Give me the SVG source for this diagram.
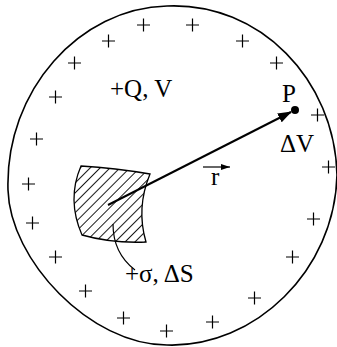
<svg xmlns="http://www.w3.org/2000/svg" width="337" height="347" viewBox="0 0 337 347">
<style>
.lbl{font-family:"Liberation Serif","Times New Roman",serif;font-size:25px;fill:#000}
.pl{stroke:#000;stroke-width:1.2;fill:none}
</style>
<defs>
<pattern id="hatch" patternUnits="userSpaceOnUse" width="7" height="7" patternTransform="rotate(-45)">
<line x1="0" y1="0.5" x2="7" y2="0.5" stroke="#000" stroke-width="0.9"/>
</pattern>
<marker id="ah" markerWidth="14" markerHeight="10" refX="13" refY="5" orient="auto" markerUnits="userSpaceOnUse">
<path d="M0,0 L14,5 L0,10 Z" fill="#000"/>
</marker>
<marker id="ahs" markerWidth="9" markerHeight="6" refX="9" refY="3" orient="auto" markerUnits="userSpaceOnUse">
<path d="M0,0 L9,3 L0,6 Z" fill="#000"/>
</marker>
</defs>
<g id="body">
<path d="M167,6 C260,2 335,80 337,175 C335,270 255,348 167,345 C90,345 10,260 8,190 C5,90 80,8 167,6 Z" fill="none" stroke="#000" stroke-width="1.6"/>
</g>
<g id="charges">
<path class="pl" d="M137,25h13M143.5,18.5v13 M186,25h13M192.5,18.5v13 M102,41h13M108.5,34.5v13 M236,41h13M242.5,34.5v13 M68,63h13M74.5,56.5v13 M270,63h13M276.5,56.5v13 M49,97h13M55.5,90.5v13 M311,115h13M317.5,108.5v13 M30,139h13M36.5,132.5v13 M322,167h13M328.5,160.5v13 M22,184h13M28.5,177.5v13 M26,223h13M32.5,216.5v13 M49,257h13M55.5,250.5v13 M79,291h13M85.5,284.5v13 M117,318h13M123.5,311.5v13 M160,331h13M166.5,324.5v13 M206,322h13M212.5,315.5v13 M248,298h13M254.5,291.5v13 M286,257h13M292.5,250.5v13 M307,219h13M313.5,212.5v13"/>
</g>
<g id="patch">
<path d="M81,166 Q115,168 150,174 Q136,208 146,242 Q112,243.5 82,235 Q66.5,199.5 81,166 Z" fill="url(#hatch)" stroke="#000" stroke-width="1.3"/>
</g>
<g id="point-P">
<circle cx="295" cy="110" r="4" fill="#000"/>
<text class="lbl" x="282" y="102">P</text>
<text class="lbl" x="280" y="152">ΔV</text>
</g>
<g id="labels">
<text class="lbl" x="110" y="97">+Q, V</text>
<text class="lbl" x="125" y="282">+σ, ΔS</text>
<text class="lbl" x="211" y="185">r</text>
</g>
<g id="connectors">
<line x1="108" y1="205" x2="291" y2="112" stroke="#000" stroke-width="2" marker-end="url(#ah)"/>
<line x1="203" y1="167" x2="230" y2="167" stroke="#000" stroke-width="1.2" marker-end="url(#ahs)"/>
<path d="M113,224 C113,245 122,260 135,270" fill="none" stroke="#000" stroke-width="1.2"/>
</g>
</svg>
